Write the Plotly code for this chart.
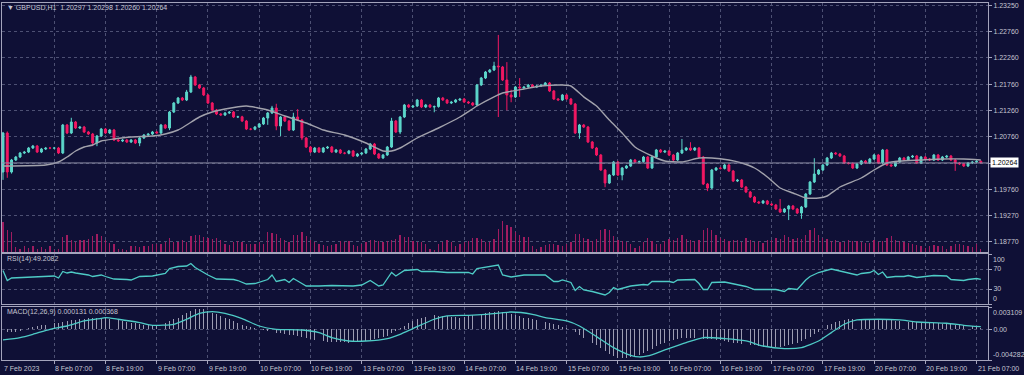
import plotly.graph_objects as go

# ---------------- data ----------------
title_text = "\u25BC GBPUSD,H1  1.20297 1.20298 1.20260 1.20264"
rsi_title = "RSI(14):49.2082"
macd_title = "MACD(12,26,9) 0.000131 0.000368"
last_price = 1.20264
last_price_text = "1.20264"

tick_labels = ["7 Feb 2023", "8 Feb 07:00", "8 Feb 19:00", "9 Feb 07:00", "9 Feb 19:00",
               "10 Feb 07:00", "10 Feb 19:00", "13 Feb 07:00", "13 Feb 19:00", "14 Feb 07:00",
               "14 Feb 19:00", "15 Feb 07:00", "15 Feb 19:00", "16 Feb 07:00", "16 Feb 19:00",
               "17 Feb 07:00", "17 Feb 19:00", "20 Feb 07:00", "20 Feb 19:00", "21 Feb 07:00"]
tick_bars = [0, 12, 24, 36, 48, 60, 72, 84, 96, 108, 120, 132, 144, 156, 168, 180, 192, 204, 216, 228]

price_ticks = [1.23250, 1.22760, 1.22260, 1.21760, 1.21260, 1.20760, 1.20260, 1.19760, 1.19270, 1.18770]
price_tick_text = ["1.23250", "1.22760", "1.22260", "1.21760", "1.21260", "1.20760", "", "1.19760", "1.19270", "1.18770"]

first_open = 1.20092
closes = [
    1.20833, 1.20092, 1.20320, 1.20377, 1.20453, 1.20472, 1.20548, 1.20586, 1.20472, 1.20529,
    1.20548, 1.20546, 1.20548, 1.20453, 1.20985, 1.20833, 1.21042, 1.20928, 1.20947, 1.20852,
    1.20814, 1.20643, 1.20776, 1.20909, 1.20833, 1.20890, 1.20700, 1.20681, 1.20700, 1.20662,
    1.20700, 1.20643, 1.20738, 1.20795, 1.20814, 1.20852, 1.20833, 1.20985, 1.20928, 1.21232,
    1.21403, 1.21498, 1.21460, 1.21612, 1.21897, 1.21745, 1.21688, 1.21555, 1.21403, 1.21270,
    1.21194, 1.21175, 1.21213, 1.21232, 1.21137, 1.21140, 1.21061, 1.20909, 1.20905, 1.20947,
    1.21004, 1.21118, 1.21213, 1.21308, 1.20966, 1.21137, 1.21061, 1.20890, 1.21137, 1.21080,
    1.20738, 1.20567, 1.20472, 1.20548, 1.20472, 1.20548, 1.20567, 1.20472, 1.20510, 1.20453,
    1.20448, 1.20491, 1.20396, 1.20434, 1.20453, 1.20529, 1.20624, 1.20434, 1.20358, 1.20415,
    1.20567, 1.21061, 1.20852, 1.21137, 1.21365, 1.21327, 1.21346, 1.21460, 1.21327, 1.21365,
    1.21327, 1.21335, 1.21498, 1.21460, 1.21403, 1.21422, 1.21460, 1.21479, 1.21422, 1.21403,
    1.21365, 1.21745, 1.21878, 1.21992, 1.22030, 1.22106, 1.22087, 1.21840, 1.21555, 1.21517,
    1.21707, 1.21688, 1.21707, 1.21745, 1.21707, 1.21726, 1.21745, 1.21783, 1.21631, 1.21479,
    1.21460, 1.21555, 1.21479, 1.21384, 1.20833, 1.20985, 1.20947, 1.20662, 1.20548, 1.20415,
    1.20130, 1.19883, 1.20035, 1.20282, 1.20035, 1.20168, 1.20206, 1.20320, 1.20282, 1.20290,
    1.20377, 1.20168, 1.20377, 1.20510, 1.20472, 1.20491, 1.20415, 1.20320, 1.20453, 1.20510,
    1.20548, 1.20510, 1.20548, 1.20377, 1.19864, 1.19788, 1.20130, 1.20168, 1.20160, 1.20225,
    1.20111, 1.19921, 1.19940, 1.19807, 1.19712, 1.19617, 1.19522, 1.19503, 1.19541, 1.19484,
    1.19465, 1.19389, 1.19332, 1.19389, 1.19446, 1.19389, 1.19313, 1.19427, 1.19674, 1.19902,
    1.20054, 1.20130, 1.20225, 1.20358, 1.20453, 1.20434, 1.20396, 1.20263, 1.20255, 1.20168,
    1.20244, 1.20301, 1.20263, 1.20339, 1.20415, 1.20263, 1.20510, 1.20225, 1.20206, 1.20282,
    1.20358, 1.20320, 1.20377, 1.20396, 1.20263, 1.20377, 1.20339, 1.20320, 1.20415, 1.20320,
    1.20377, 1.20396, 1.20320, 1.20263, 1.20244, 1.20206, 1.20263, 1.20282, 1.20297, 1.20264,
]

# wick lengths beyond the body, in pips
wick_up_pips = [
    2, 3, 2, 2, 2, 2, 2, 2, 2, 2,
    2, 2, 2, 2, 2, 2, 8, 2, 2, 2,
    2, 2, 2, 2, 2, 2, 2, 2, 2, 2,
    2, 2, 2, 2, 2, 2, 2, 2, 2, 2,
    2, 2, 2, 4, 4, 2, 2, 2, 2, 2,
    2, 2, 2, 2, 2, 2, 2, 2, 2, 2,
    2, 2, 2, 4, 8, 2, 2, 2, 8, 15,
    2, 2, 2, 2, 2, 2, 2, 2, 2, 2,
    2, 2, 2, 2, 2, 2, 2, 2, 2, 2,
    2, 6, 2, 2, 2, 2, 2, 2, 2, 2,
    2, 2, 2, 2, 2, 2, 2, 2, 2, 2,
    2, 2, 2, 2, 2, 8, 59, 2, 34, 10,
    2, 17, 2, 2, 2, 2, 2, 2, 2, 2,
    2, 2, 2, 2, 2, 2, 2, 2, 2, 2,
    2, 2, 2, 2, 2, 2, 2, 2, 2, 2,
    2, 2, 2, 2, 2, 2, 2, 2, 2, 21,
    2, 11, 2, 2, 2, 2, 2, 2, 2, 2,
    2, 2, 2, 2, 2, 2, 2, 2, 2, 2,
    2, 2, 19, 2, 2, 2, 2, 2, 2, 2,
    30, 2, 2, 2, 2, 2, 2, 2, 2, 2,
    2, 2, 2, 2, 2, 2, 2, 2, 2, 2,
    2, 2, 2, 2, 2, 2, 2, 2, 2, 2,
    2, 2, 2, 2, 2, 2, 2, 2, 2, 1,
]
wick_dn_pips = [
    15, 11, 3, 2, 2, 2, 2, 2, 2, 2,
    2, 2, 2, 2, 2, 2, 2, 2, 2, 2,
    2, 6, 6, 2, 2, 2, 2, 2, 2, 2,
    2, 2, 6, 2, 2, 2, 2, 2, 2, 4,
    2, 2, 2, 2, 2, 2, 2, 2, 2, 2,
    2, 2, 2, 2, 2, 2, 2, 2, 2, 2,
    2, 2, 13, 2, 8, 19, 2, 2, 2, 2,
    4, 2, 2, 2, 2, 2, 2, 2, 2, 2,
    2, 2, 2, 2, 2, 2, 2, 2, 2, 2,
    2, 2, 2, 4, 2, 2, 2, 2, 2, 2,
    2, 10, 2, 2, 2, 2, 2, 2, 2, 2,
    2, 2, 2, 2, 2, 2, 95, 2, 29, 10,
    2, 17, 2, 2, 2, 2, 2, 2, 2, 2,
    2, 2, 2, 2, 2, 11, 2, 2, 2, 2,
    2, 8, 2, 2, 2, 10, 2, 2, 2, 2,
    2, 2, 2, 2, 2, 2, 2, 2, 2, 2,
    2, 2, 2, 2, 2, 6, 2, 2, 2, 2,
    2, 2, 2, 2, 2, 2, 2, 2, 2, 2,
    2, 2, 2, 2, 21, 2, 2, 11, 2, 2,
    2, 2, 2, 2, 2, 2, 2, 2, 2, 2,
    2, 2, 2, 2, 2, 2, 2, 2, 2, 2,
    2, 2, 2, 2, 2, 2, 2, 2, 2, 2,
    2, 2, 2, 15, 2, 2, 2, 2, 2, 0,
]

volumes = [
    6000, 4400, 4000, 1000, 600, 1200, 800, 1200, 600, 1000,
    600, 1200, 400, 600, 3000, 3400, 2400, 2000, 2400, 2400,
    2600, 3200, 3600, 3200, 2400, 1800, 1600, 600, 600, 400,
    1200, 1200, 1000, 1200, 1200, 1600, 1600, 1600, 2000, 2800,
    2000, 2000, 2400, 2000, 3200, 3400, 3400, 3000, 2800, 2600,
    2800, 2400, 1600, 1400, 2000, 2200, 2000, 1600, 1600, 1600,
    2000, 1600, 4000, 3800, 3600, 2800, 2400, 2000, 3400, 3400,
    4000, 3200, 2400, 2000, 1600, 1400, 1200, 1400, 1600, 2200,
    2000, 2200, 1400, 1200, 1600, 2000, 2400, 2400, 2200, 2000,
    2200, 2400, 2600, 3400, 3000, 3000, 2200, 2000, 2000, 1600,
    600, 400, 1600, 2000, 2400, 2000, 1200, 1600, 2000, 2200,
    2800, 2800, 2600, 2000, 2000, 2600, 4600, 6200, 5400, 5000,
    4000, 3400, 3000, 3000, 1200, 600, 1000, 1400, 1600, 1600,
    1400, 1200, 1600, 2000, 3600, 3600, 2800, 2600, 2200, 2600,
    4400, 4600, 4400, 3200, 2400, 2200, 2000, 1600, 800, 1200,
    2000, 2800, 2200, 1600, 1600, 2200, 2600, 2400, 2800, 3400,
    2600, 2400, 2200, 2400, 4400, 4800, 4400, 3400, 2800, 2600,
    2200, 2400, 2400, 2000, 2800, 2400, 2000, 2200, 1800, 2400,
    2400, 2800, 2600, 3400, 3000, 2600, 2800, 2600, 3400, 4400,
    4800, 3400, 2800, 2600, 2200, 2400, 2000, 2000, 2400, 2200,
    2200, 2000, 1800, 1800, 2400, 2000, 2200, 2800, 3200, 2400,
    2200, 2000, 1800, 1600, 1400, 1200, 800, 1200, 1400, 1200,
    1200, 600, 1200, 1600, 1600, 1400, 1200, 1000, 1600, 600,
]

# moving average, read at these bars
ma_bars = [0, 10, 13, 15, 17, 19, 21, 23, 26, 30, 35, 38, 41, 43, 46, 49, 52, 57, 62, 66,
           71, 75, 80, 85, 89, 91, 93, 97, 102, 107, 111, 115, 117, 122, 126, 131, 133, 136, 139, 142,
           145, 148, 152, 155, 159, 163, 166, 170, 173, 176, 179, 182, 185, 188, 191, 193, 196, 201, 204, 207,
           210, 215, 220, 225, 229]
ma_vals = [1.20206, 1.20225, 1.20282, 1.20377, 1.20491, 1.20567, 1.20605, 1.20681, 1.20719, 1.20757,
           1.20776, 1.20814, 1.20890, 1.20985, 1.21137, 1.21232, 1.21289, 1.21346, 1.21270, 1.21156,
           1.21023, 1.20890, 1.20795, 1.20643, 1.20491, 1.20491, 1.20548, 1.20738, 1.20928, 1.21137,
           1.21346, 1.21520, 1.21593, 1.21669, 1.21726, 1.21745, 1.21726, 1.21520, 1.21346, 1.21080,
           1.20833, 1.20567, 1.20396, 1.20301, 1.20282, 1.20358, 1.20358, 1.20320, 1.20263, 1.20168,
           1.19997, 1.19788, 1.19693, 1.19598, 1.19598, 1.19636, 1.19807, 1.19978, 1.20130, 1.20263,
           1.20301, 1.20320, 1.20339, 1.20339, 1.20320]

rsi_bars = [0, 1, 2, 7, 12, 13, 14, 15, 16, 17, 20, 21, 23, 24, 26, 29, 30, 32, 35, 38,
            39, 41, 43, 44, 45, 48, 50, 54, 55, 57, 59, 62, 63, 64, 66, 67, 68, 70, 71, 74,
            77, 82, 84, 86, 88, 89, 91, 92, 94, 97, 98, 101, 104, 109, 110, 111, 114, 116, 117, 119,
            122, 126, 127, 129, 130, 131, 133, 134, 135, 136, 138, 141, 142, 143, 144, 147, 150, 151, 152, 156,
            157, 158, 162, 163, 164, 165, 166, 169, 171, 174, 176, 181, 183, 184, 186, 188, 189, 191, 194, 195,
            198, 200, 201, 203, 204, 205, 206, 207, 209, 211, 212, 214, 218, 221, 222, 225, 226, 228, 229]
rsi_vals = [67, 47, 52, 54, 56, 52, 65, 62, 64, 62, 58, 55, 58, 55, 50, 49, 48, 55, 56, 61,
            71, 75, 76, 81, 73, 58, 50, 49, 47, 40, 41, 49, 58, 45, 49, 43, 51, 41, 36, 36,
            37, 36, 38, 47, 36, 38, 63, 56, 67, 69, 65, 65, 63, 63, 60, 71, 76, 78, 58, 54,
            58, 57, 58, 45, 45, 48, 43, 27, 35, 28, 25, 18, 23, 33, 29, 36, 39, 38, 45, 45,
            43, 48, 49, 41, 29, 29, 43, 44, 40, 35, 29, 29, 25, 31, 29, 48, 55, 63, 70, 68,
            61, 58, 61, 63, 67, 59, 64, 53, 55, 55, 57, 53, 57, 56, 49, 47, 49, 51, 49.2]
rsi_ticks = [0, 30, 70, 100]
rsi_tick_text = ["0", "30", "70", "100"]

# MACD main (histogram) per bar, in units of 1e-5
macd_main_e5 = [
    -46, -43, -40, -37, -18, 0, 18, 37, 45, 54,
    62, 70, 82, 93, 105, 116, 124, 132, 141, 149,
    153, 156, 160, 163, 155, 148, 140, 127, 115, 102,
    91, 81, 70, 65, 61, 56, 65, 75, 84, 110,
    137, 163, 198, 233, 256, 279, 284, 288, 260, 233,
    210, 186, 163, 140, 116, 86, 56, 42, 28, 14,
    0, -12, -23, -35, -46, -56, -65, -75, -84, -95,
    -105, -116, -132, -147, -163, -168, -172, -177, -179, -182,
    -184, -186, -183, -180, -177, -165, -152, -140, -124, -109,
    -93, -58, -23, 12, 46, 81, 116, 140, 163, 174,
    184, 195, 192, 189, 186, 178, 171, 163, 174, 184,
    195, 208, 220, 233, 240, 248, 255, 245, 230, 215,
    198, 180, 163, 152, 140, 128, 116, 101, 85, 70,
    54, 37, 18, 0, -42, -84, -124, -163, -194, -224,
    -255, -302, -349, -372, -395, -395, -395, -384, -374, -363,
    -333, -302, -268, -233, -210, -186, -163, -146, -130, -125,
    -120, -116, -121, -126, -130, -135, -140, -144, -149, -161,
    -174, -186, -194, -201, -209, -217, -225, -233, -240, -248,
    -255, -248, -240, -233, -217, -202, -186, -158, -130, -102,
    -68, -34, 0, 56, 76, 96, 116, 128, 140, 140,
    140, 140, 140, 140, 137, 133, 130, 126, 123, 119,
    116, 111, 107, 102, 99, 96, 93, 90, 87, 84,
    79, 75, 70, 65, 61, 56, 50, 43, 37, 13,
]
signal_bars = [0, 4, 7, 11, 15, 19, 23, 24, 27, 32, 35, 40, 43, 46, 49, 52, 56, 60, 64, 70,
               74, 77, 81, 85, 90, 93, 96, 101, 104, 109, 113, 119, 124, 127, 132, 135, 139, 143, 147, 149,
               151, 155, 160, 164, 169, 174, 178, 183, 187, 191, 194, 197, 200, 205, 210, 214, 221, 225, 229]
signal_e5 = [-149, -116, -70, 0, 46, 116, 153, 163, 140, 93, 56, 70, 140, 223, 247, 223, 149, 46, 0, -10,
             -46, -116, -163, -163, -130, -70, 10, 140, 186, 195, 209, 241, 209, 163, 116, 46, -102, -255, -363, -386,
             -372, -288, -186, -116, -130, -163, -233, -269, -255, -163, -46, 70, 130, 140, 130, 102, 84, 56, 37]
macd_ticks = [-0.004282, 0.0, 0.003109]
macd_tick_text = ["-0.004282", "0.00", "0.003109"]

# ---------------- styling ----------------
BG = "#0f1036"
GRID = "#4d5073"
BORDER = "#a4a4bc"
TEXT = "#c6c6d2"
BULL = "#5cd6ca"
BEAR = "#f21862"
VOL = "#a01c60"
MA_COL = "#a2a2ac"
IND = "#4ecbc6"
HIST = "#9c9cb2"
FONT = "Liberation Sans, Arial, sans-serif"
FS = 7

PIP = 0.0001
n = len(closes)
bars = list(range(n))
opens = [first_open] + closes[:-1]
highs = [max(o, c) + u * PIP for o, c, u in zip(opens, closes, wick_up_pips)]
lows = [min(o, c) - d * PIP for o, c, d in zip(opens, closes, wick_dn_pips)]
is_bull = [c >= o for o, c in zip(opens, closes)]

fig = go.Figure()

# volume (bottom of main pane, own hidden axis)
fig.add_trace(go.Bar(x=bars, y=volumes, xaxis="x", yaxis="y4", width=0.3,
                     marker=dict(color=VOL, line=dict(width=0)), hoverinfo="skip"))

# wicks
for flag, col in ((True, BULL), (False, BEAR)):
    wx, wy = [], []
    for i in bars:
        if is_bull[i] == flag:
            wx += [i, i, None]
            wy += [lows[i], highs[i], None]
    fig.add_trace(go.Scatter(x=wx, y=wy, mode="lines", xaxis="x", yaxis="y",
                             line=dict(color=col, width=1), hoverinfo="skip"))

# bodies
body_cols = [BULL if b else BEAR for b in is_bull]
fig.add_trace(go.Bar(x=bars, y=[abs(c - o) for o, c in zip(opens, closes)],
                     base=[min(o, c) for o, c in zip(opens, closes)],
                     xaxis="x", yaxis="y", width=0.45,
                     marker=dict(color=body_cols, line=dict(color=body_cols, width=1)),
                     hoverinfo="skip"))

# moving average
fig.add_trace(go.Scatter(x=ma_bars, y=ma_vals, mode="lines", xaxis="x", yaxis="y",
                         line=dict(color=MA_COL, width=1.4, shape="spline", smoothing=0.5),
                         hoverinfo="skip"))

# RSI
fig.add_trace(go.Scatter(x=rsi_bars, y=rsi_vals, mode="lines", xaxis="x2", yaxis="y2",
                         line=dict(color=IND, width=1.3), hoverinfo="skip"))

# MACD
fig.add_trace(go.Bar(x=bars, y=[v * 1e-5 for v in macd_main_e5], xaxis="x3", yaxis="y3",
                     width=0.22, marker=dict(color=HIST, line=dict(width=0)), hoverinfo="skip"))
fig.add_trace(go.Scatter(x=signal_bars, y=[v * 1e-5 for v in signal_e5], mode="lines",
                         xaxis="x3", yaxis="y3",
                         line=dict(color=IND, width=1.3, shape="spline", smoothing=0.6),
                         hoverinfo="skip"))

# ---------------- layout ----------------
W, H = 1024, 375
ML, MR, MT, MB = 2, 36, 3, 13
PW, PH = W - ML - MR, H - MT - MB
PX_PER_BAR = 4.27
x0 = -1.0 / PX_PER_BAR
xr = [x0, x0 + PW / PX_PER_BAR]


def fy(py):
    return (H - MB - py) / PH


def fx(px):
    return (px - ML) / PW


xcommon = dict(range=xr, showticklabels=False, tickvals=tick_bars[1:], showgrid=True,
               gridcolor=GRID, griddash="dot", gridwidth=1, zeroline=False,
               showline=True, linecolor=BORDER, linewidth=1, mirror=True, fixedrange=True)
ycommon = dict(side="right", showgrid=True, gridcolor=GRID, griddash="dot", gridwidth=1,
               zeroline=False, showline=True, linecolor=BORDER, linewidth=1, mirror=True,
               ticks="outside", ticklen=3, tickcolor=BORDER,
               tickfont=dict(family=FONT, size=FS, color=TEXT))

# edge labels of the indicator panes are drawn inside the pane edges (as the terminal does)
rsi_inner = [v in (0, 100) for v in rsi_ticks]
macd_inner = [v != 0.0 for v in macd_ticks]

fig.update_layout(
    width=W, height=H,
    margin=dict(l=ML, r=MR, t=MT, b=MB, pad=0),
    paper_bgcolor=BG, plot_bgcolor=BG,
    showlegend=False, barmode="overlay", bargap=0,
    xaxis=dict(anchor="y", **xcommon),
    xaxis2=dict(anchor="y2", matches="x", **xcommon),
    xaxis3=dict(anchor="y3", matches="x", ticks="outside", ticklen=3, tickcolor=BORDER, **xcommon),
    yaxis=dict(domain=[fy(252), 1.0], range=[1.2336 - 0.00019 * 252, 1.2336 - 0.00019 * 3],
               tickvals=price_ticks, ticktext=price_tick_text, anchor="x", **ycommon),
    yaxis4=dict(overlaying="y", range=[0, 49800], visible=False, anchor="x"),
    yaxis2=dict(domain=[fy(304), fy(254)], range=[0, 100], tickvals=rsi_ticks,
                ticktext=["" if inn else t for t, inn in zip(rsi_tick_text, rsi_inner)],
                anchor="x2", **ycommon),
    yaxis3=dict(domain=[fy(360), fy(307)], range=[macd_ticks[0], macd_ticks[-1]],
                tickvals=macd_ticks,
                ticktext=["" if inn else t for t, inn in zip(macd_tick_text, macd_inner)],
                anchor="x3", **ycommon),
    font=dict(family=FONT, size=FS, color=TEXT),
)

# current price line
fig.add_shape(type="line", xref="paper", yref="y", x0=0, x1=1, y0=last_price, y1=last_price,
              line=dict(color="#8d8da6", width=1))

annotations = [
    dict(x=1.0, xref="paper", y=last_price, yref="y", text=last_price_text, showarrow=False,
         xanchor="left", yanchor="middle", xshift=2, bgcolor="#ffffff",
         font=dict(family=FONT, size=FS, color="#000000"), borderpad=1),
    dict(x=fx(5), xref="paper", y=fy(7), yref="paper", text=title_text, showarrow=False,
         xanchor="left", yanchor="middle", font=dict(family=FONT, size=FS, color=TEXT)),
    dict(x=fx(5), xref="paper", y=fy(259), yref="paper", text=rsi_title, showarrow=False,
         xanchor="left", yanchor="middle", font=dict(family=FONT, size=FS, color=TEXT)),
    dict(x=fx(5), xref="paper", y=fy(312), yref="paper", text=macd_title, showarrow=False,
         xanchor="left", yanchor="middle", font=dict(family=FONT, size=FS, color=TEXT)),
]
# inner edge labels for RSI and MACD panes
for v, t, inn in zip(rsi_ticks, rsi_tick_text, rsi_inner):
    if inn:
        annotations.append(dict(x=1.0, xref="paper", y=v, yref="y2", text=t, showarrow=False,
                                xanchor="left", yanchor="top" if v == 100 else "bottom", xshift=3,
                                font=dict(family=FONT, size=FS, color=TEXT)))
for v, t, inn in zip(macd_ticks, macd_tick_text, macd_inner):
    if inn:
        annotations.append(dict(x=1.0, xref="paper", y=v, yref="y3", text=t, showarrow=False,
                                xanchor="left", yanchor="top" if v > 0 else "bottom", xshift=3,
                                font=dict(family=FONT, size=FS, color=TEXT)))
for b, lab in zip(tick_bars, tick_labels):
    annotations.append(dict(x=b, xref="x3", y=fy(368.5), yref="paper", text=lab, showarrow=False,
                            xanchor="left", yanchor="middle", xshift=-1,
                            font=dict(family=FONT, size=FS, color=TEXT)))
fig.update_layout(annotations=annotations)

fig.write_html("out.html", config={"displayModeBar": False, "staticPlot": True},
               post_script="document.body.style.margin='0';document.body.style.background='#0f1036';")
